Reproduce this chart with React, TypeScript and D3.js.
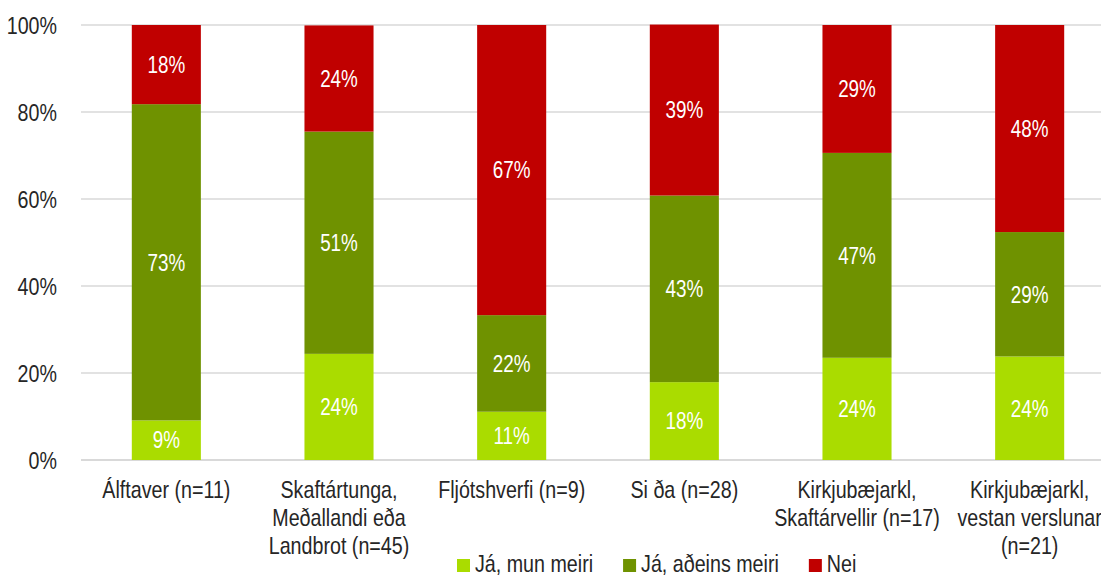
import React, { useEffect, useRef } from "react";
import * as d3 from "d3";

const categories = [
  "Álftaver (n=11)",
  "Skaftártunga, Meðallandi eða Landbrot (n=45)",
  "Fljótshverfi (n=9)",
  "Síða (n=28)",
  "Kirkjubæjarkl, Skaftárvellir (n=17)",
  "Kirkjubæjarkl, vestan verslunar (n=21)",
];
const categoryLines = [
  ["Álftaver (n=11)"],
  ["Skaftártunga,", "Meðallandi eða", "Landbrot (n=45)"],
  ["Fljótshverfi (n=9)"],
  ["Si ða (n=28)"],
  ["Kirkjubæjarkl,", "Skaftárvellir (n=17)"],
  ["Kirkjubæjarkl,", "vestan verslunar", "(n=21)"],
];
const seriesNames = ["Já, mun meiri", "Já, aðeins meiri", "Nei"];
const jaMunMeiri = [9.1, 24.4, 11.1, 17.9, 23.5, 23.8];
const jaAdeinsMeiri = [72.7, 51.1, 22.2, 42.9, 47.1, 28.6];
const nei = [18.2, 24.4, 66.7, 39.3, 29.4, 47.6];
const yTicks = [0, 20, 40, 60, 80, 100];
const colors = ["#AADC00", "#6F9200", "#C00000"];

const W = 1101;
const H = 576;
const FONT = "'Liberation Sans', Arial, sans-serif";
const NARROW = 0.82;

export default function App() {
  const ref = useRef<SVGSVGElement>(null);
  useEffect(() => {
    const svg = d3.select(ref.current);
    svg.selectAll("*").remove();
    const x = d3.scaleBand<string>().domain(categories).range([80, 1116]).paddingInner(0.6).paddingOuter(0.3);
    const y = d3.scaleLinear().domain([0, 100]).range([460, 25]);

    const narrowText = (parent: any, tx: number, ty: number, size: number, fill: string, anchor: string) =>
      parent.append("g").attr("transform", `translate(${tx},${ty}) scale(${NARROW},1)`)
        .append("text").attr("text-anchor", anchor).attr("font-family", FONT)
        .attr("font-size", size).attr("fill", fill);

    // gridlines
    svg.append("g").selectAll("line").data(yTicks).join("line")
      .attr("x1", 81).attr("x2", W)
      .attr("y1", (d) => y(d)).attr("y2", (d) => y(d))
      .attr("stroke", "#D9D9D9").attr("stroke-width", (d) => (d === 0 ? 2 : 1.5));

    // y tick labels
    const tg = svg.append("g");
    yTicks.forEach((d) => {
      narrowText(tg, 57, y(d), 24, "#262626", "end").attr("dy", "0.36em").text(`${d}%`);
    });

    const rows = categories.map((c, i) => ({ cat: c, v: [jaMunMeiri[i], jaAdeinsMeiri[i], nei[i]] }));
    const stack = d3.stack<any>().keys(["0", "1", "2"]).value((d, k) => d.v[+k]);
    const series = stack(rows);

    series.forEach((s, si) => {
      const g = svg.append("g");
      g.selectAll("rect").data(s).join("rect")
        .attr("x", (d) => x(d.data.cat)!)
        .attr("width", x.bandwidth())
        .attr("y", (d) => y(d[1]))
        .attr("height", (d) => y(d[0]) - y(d[1]))
        .attr("fill", colors[si]);
      s.forEach((d) => {
        narrowText(g, x(d.data.cat)! + x.bandwidth() / 2, y((d[0] + d[1]) / 2), 23, "#FFFFFF", "middle")
          .attr("dy", "0.36em").text(`${Math.round(d[1] - d[0])}%`);
      });
    });

    // category labels
    const cg = svg.append("g");
    categories.forEach((c, i) => {
      const t = narrowText(cg, x(c)! + x.bandwidth() / 2, 0, 24, "#262626", "middle");
      categoryLines[i].forEach((line, li) => {
        t.append("tspan").attr("x", 0).attr("y", 498 + li * 28).text(line);
      });
    });

    // legend
    const lg = svg.append("g");
    let lx = 457;
    seriesNames.forEach((name, i) => {
      lg.append("rect").attr("x", lx).attr("y", 559).attr("width", 13).attr("height", 13).attr("fill", colors[i]);
      const t = narrowText(lg, lx + 18, 572, 24, "#262626", "start").text(name);
      const w = (t.node() as SVGTextElement).getComputedTextLength() * NARROW;
      lx = lx + 18 + w + 30;
    });
  }, []);
  return (
    <svg ref={ref} width={W} height={H} style={{ position: "fixed", left: 0, top: 0, background: "#fff" }} />
  );
}
